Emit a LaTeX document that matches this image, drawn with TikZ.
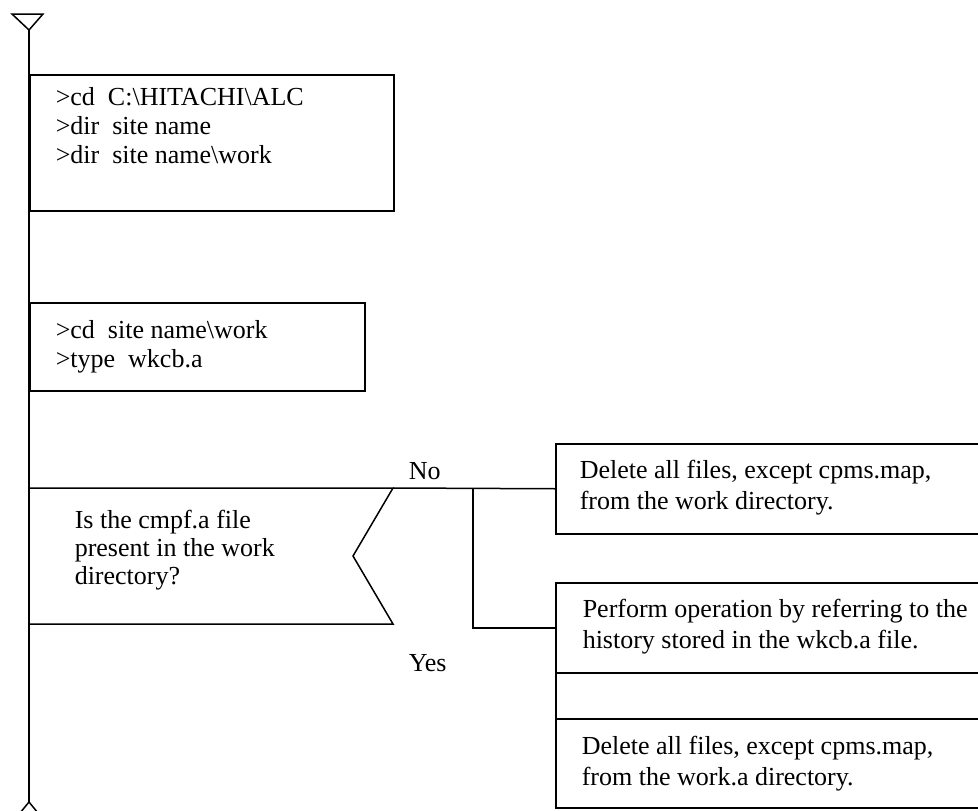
\documentclass[tikz,border=0pt]{standalone}
\usepackage{fontspec}
\setmainfont{Liberation Serif}
\begin{document}
\begin{tikzpicture}[x=1pt,y=-1pt, line width=1.5pt, line join=miter,
  framebox/.style={draw, rectangle, inner sep=0pt, anchor=north west},
  txt/.style={font=\fontsize{26}{29}\selectfont, align=left, inner sep=0pt, anchor=base west},
  tight/.style={font=\fontsize{26}{28}\selectfont},
  wide/.style={font=\fontsize{26}{31}\selectfont},
  lbl/.style={font=\fontsize{26}{29}\selectfont, inner sep=0pt, anchor=base west}]
\useasboundingbox (0,0) rectangle (978,811);
\clip (0,0) rectangle (978,811);

% start and end marks of the main sequence line
\coordinate (top) at (29,30);
\coordinate (bot) at (29,802);
\draw (12,14) -- (43,14) -- (top) -- cycle;
\draw (20,813) -- (bot) -- (38,813);
\draw (top) -- (bot);

% process boxes on the main line (text nodes are placed by their last baseline)
\node[framebox, minimum width=364pt, minimum height=136pt] (b1) at (29,74) {};
\node[txt] (t1) at (55,163) {>cd\ \ C:\textbackslash HITACHI\textbackslash ALC\\>dir\ \ site name\\>dir\ \ site name\textbackslash work};

\node[framebox, minimum width=335pt, minimum height=88pt] (b2) at (29,302) {};
\node[txt] (t2) at (55,367) {>cd\ \ site name\textbackslash work\\>type\ \ wkcb.a};

% decision
\coordinate (dtl) at (29,488);
\coordinate (dtr) at (393,488);
\coordinate (dnotch) at (353,556);
\coordinate (dbr) at (393,624);
\coordinate (dbl) at (29,624);
\draw (dtl) -- (dtr) -- (dnotch) -- (dbr) -- (dbl);
\node[txt, tight] (tq) at (74,584) {Is the cmpf.a file\\present in the work\\directory?};
\node[lbl] (no) at (408,479) {No};
\node[lbl] (yes) at (408,671) {Yes};

% branch boxes
\node[framebox, minimum width=450pt, minimum height=90pt] (b3) at (555,443) {};
\node[txt, wide] (t3) at (579,509) {Delete all files, except cpms.map,\\from the work directory.};

\node[framebox, minimum width=450pt, minimum height=90pt] (b4) at (555,582) {};
\node[txt, wide] (t4) at (582,648) {Perform operation by referring to the\\history stored in the wkcb.a file.};

\node[framebox, minimum width=450pt, minimum height=46pt] (b5) at (555,672) {};

\node[framebox, minimum width=450pt, minimum height=89pt] (b6) at (555,718) {};
\node[txt, wide] (t6) at (581,785) {Delete all files, except cpms.map,\\from the work.a directory.};

% connectors of the "No" branch
\coordinate (fork) at (473,488);
\draw (dtr) -- (b3.west);
\draw (fork) |- (b4.west);
\end{tikzpicture}
\end{document}
